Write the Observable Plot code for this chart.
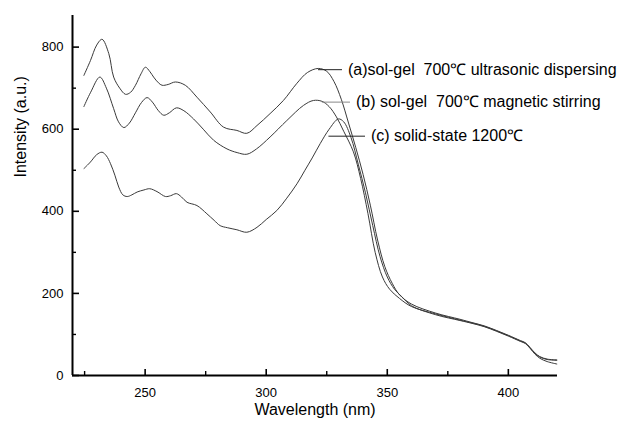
<!DOCTYPE html>
<html><head><meta charset="utf-8">
<script src="https://cdn.jsdelivr.net/npm/d3@7"></script>
<script src="https://cdn.jsdelivr.net/npm/@observablehq/plot@0.6"></script>
<style>html,body{margin:0;padding:0;background:#fff;}</style>
</head><body><div id="chart"></div>
<script>
// Series (a) sol-gel 700℃ ultrasonic dispersing
const wlA = [224.7,227.4,230,232.2,235,237,239.5,241.9,244,246,248.3,250.1,252,253.5,255.5,257,259.5,262.5,266.6,271.4,276.9,282.4,287.9,292,296.2,301.6,307.1,312.7,317,321.5,325,328,331,334,337,340,343,346,349,352,355,360,370,380,385,390,395,400,405,407,409,411,413,416,420];
const intA = [731,767,805,819,784,727,700,685,690,707,735,751,740,727,713,707,709,715,707,678,642,605,597,590,609,638,670,712,738,748,741,716,673,615,555,490,415,330,265,225,197,174,152,137,129,121,110,98,85,80,68,55,46,40,38];
// Series (b) sol-gel 700℃ magnetic stirring
const wlB = [224.7,227.5,231.3,234,237,239,241.2,243.5,246,248.5,250.8,253,255.5,257.7,260,262.9,266,270,274,278.3,283.8,288,292,296,301.6,308.5,315.4,319.5,323,326,329,332,336,339,342,345,348,351,355,360,370,380,385,390,395,400,405,407,409,411,413,416,420];
const intB = [655,690,727,700,650,618,604,615,640,665,677,666,645,634,640,652,645,625,600,573,552,543,539,552,581,621,658,670,668,655,630,595,545,480,395,300,240,210,188,168,150,135,128,120,109,97,84,79,67,54,45,39,37];
// Series (c) solid-state 1200℃
const wlC = [224.7,227.4,230,232.2,234,235.7,237.5,239.1,240.8,242.6,244.5,246.7,249.5,251.9,254.9,258.4,260.5,262.9,265,267.3,271.4,275.5,278.5,281,284,287.9,292,296.2,300,304.4,308.5,312.7,316,319,322.3,326,329.8,332,335,338,341,344,347,350,353,356,360,370,380,385,390,395,400,405,407,409,411,413,416,420];
const intC = [504,520,538,544,535,516,488,459,440,436,440,447,452,455,448,436,438,443,435,422,414,394,378,365,360,355,349,361,380,402,432,467,500,530,565,600,625,618,580,515,445,365,290,240,210,192,170,148,134,127,119,108,96,83,78,66,52,42,34,28];

// Tick values
const xMajor = [250, 300, 350, 400];
const xMinor = [225, 275, 325, 375];
const yMajor = [0, 200, 400, 600, 800];
const yMinor = [100, 300, 500, 700];

// Annotation labels (anchor in data units)
const labelText = ["(a)sol-gel  700\u2103 ultrasonic dispersing", "(b) sol-gel  700\u2103 magnetic stirring", "(c) solid-state 1200\u2103"];
const leaderStart = [321.4, 323, 325.7];
const leaderEnd = [331.3, 334.6, 340.8];
const labelLevel = [745, 666, 583];
const leaderColor = ["#222", "#888", "#222"];

const series = [
  ...wlA.map((w, i) => ({w, v: intA[i], s: "a"})),
  ...wlB.map((w, i) => ({w, v: intB[i], s: "b"})),
  ...wlC.map((w, i) => ({w, v: intC[i], s: "c"}))
];
const labels = labelText.map((t, i) => ({t, x1: leaderStart[i], x2: leaderEnd[i], y: labelLevel[i], c: leaderColor[i]}));

const W = 629, H = 426, mL = 72, mR = 72, mT = 15, mB = 51;
const fw = W - mL - mR, fh = H - mT - mB;
const xDom = [220, 420.3], yDom = [0, 877];
// convert a tick length in pixels to data units along each axis
const pxToX = px => px * (xDom[1] - xDom[0]) / fw;
const pxToY = px => px * (yDom[1] - yDom[0]) / fh;

const chart = Plot.plot({
  width: W, height: H,
  marginLeft: mL, marginRight: mR, marginTop: mT, marginBottom: mB,
  style: {fontFamily: "'Liberation Sans', Arial, sans-serif", fontSize: "13px", color: "#000", background: "#fff"},
  x: {domain: xDom},
  y: {domain: yDom},
  marks: [
    Plot.axisX(xMajor, {tickSize: 0, tickPadding: 12, fontSize: 13}),
    Plot.axisY(yMajor, {tickSize: 0, tickPadding: 9, fontSize: 13}),
    Plot.ruleX(xMajor, {x: d => d, y1: yDom[0], y2: pxToY(6), stroke: "#000", strokeWidth: 1.6}),
    Plot.ruleX(xMinor, {x: d => d, y1: yDom[0], y2: pxToY(4), stroke: "#000", strokeWidth: 1.4}),
    Plot.ruleY(yMajor, {y: d => d, x1: xDom[0], x2: xDom[0] + pxToX(7), stroke: "#000", strokeWidth: 1.6}),
    Plot.ruleY(yMinor, {y: d => d, x1: xDom[0], x2: xDom[0] + pxToX(4), stroke: "#000", strokeWidth: 1.4}),
    Plot.ruleY([0], {stroke: "#000", strokeWidth: 2}),
    Plot.ruleX([220], {stroke: "#000", strokeWidth: 2}),
    Plot.line(series, {x: "w", y: "v", z: "s", stroke: "#3a3a3a", strokeWidth: 1, curve: "catmull-rom"}),
    Plot.link(labels, {x1: "x1", x2: "x2", y1: "y", y2: "y", stroke: "c", strokeWidth: 1}),
    Plot.text(labels, {x: "x2", y: "y", text: "t", textAnchor: "start", dx: 6, fontSize: 16, fill: "#000"}),
    Plot.text(["Wavelength (nm)"], {frameAnchor: "bottom", dy: 39, fontSize: 16, fill: "#000"}),
    Plot.text(["Intensity (a.u.)"], {frameAnchor: "left", rotate: -90, dx: -52, dy: -18, fontSize: 16, fill: "#000"})
  ]
});
document.getElementById("chart").appendChild(chart);
</script>
</body></html>
